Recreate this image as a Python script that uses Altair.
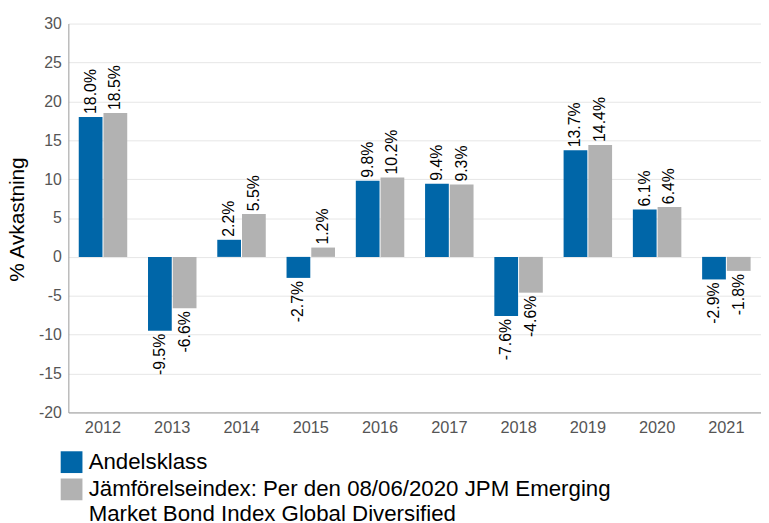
import altair as alt
import pandas as pd

years = ["2012", "2013", "2014", "2015", "2016", "2017", "2018", "2019", "2020", "2021"]
fund = [18.0, -9.5, 2.2, -2.7, 9.8, 9.4, -7.6, 13.7, 6.1, -2.9]
bench = [18.5, -6.6, 5.5, 1.2, 10.2, 9.3, -4.6, 14.4, 6.4, -1.8]
series = ["Andelsklass",
          "Jämförelseindex: Per den 08/06/2020 JPM Emerging\nMarket Bond Index Global Diversified"]
colors = ["#0066A8", "#B2B2B2"]
y_ticks = [-20, -15, -10, -5, 0, 5, 10, 15, 20, 25, 30]

rows = []
for i, y in enumerate(years):
    rows.append({"year": y, "series": series[0], "value": fund[i]})
    rows.append({"year": y, "series": series[1], "value": bench[i]})
df = pd.DataFrame(rows)
df["label"] = df["value"].map(lambda v: f"{v:.1f}%")

FONT = "Liberation Sans"

base = alt.Chart(df).encode(
    x=alt.X("year:N", sort=years,
            scale=alt.Scale(paddingInner=0.3, paddingOuter=0.15),
            axis=alt.Axis(title=None, labelAngle=0, ticks=False, domainColor="#999999",
                          labelFontSize=16.5, labelColor="#555555", labelPadding=7,
                          labelFont=FONT, grid=False)),
    xOffset=alt.XOffset("series:N", sort=series, scale=alt.Scale(paddingInner=0.04)),
    y=alt.Y("value:Q", scale=alt.Scale(domain=[-20, 30], nice=False, zero=False),
            axis=alt.Axis(values=y_ticks, title="% Avkastning", titleFontSize=21,
                          titleFont=FONT, titleFontWeight="normal", titleColor="#000000",
                          titleBaseline="alphabetic", titleX=-45, titleY=197.5,
                          titleAngle=270, titleAlign="center",
                          labelFontSize=16, labelColor="#555555",
                          labelExpr="datum.value + ''",
                          labelFont=FONT, labelPadding=7, ticks=False,
                          domainColor="#999999", gridColor="#E6E6E6")),
)

bars = base.mark_bar(strokeWidth=0).encode(
    color=alt.Color("series:N", sort=series,
                    scale=alt.Scale(domain=series, range=colors),
                    legend=alt.Legend(title=None, orient="none", legendX=-8, legendY=432,
                                      direction="vertical", symbolType="square",
                                      symbolSize=484, symbolStrokeWidth=0,
                                      labelFontSize=22.5, labelFont=FONT,
                                      labelColor="#000000", labelLimit=900,
                                      rowPadding=4.5, symbolOffset=0, labelOffset=6,
                                      labelExpr="split(datum.label, '\\n')"))
)

pos = base.transform_filter("datum.value >= 0").mark_text(
    angle=270, align="left", baseline="middle", dx=3, fontSize=16,
    font=FONT, color="#000000").encode(text="label:N")
neg = base.transform_filter("datum.value < 0").mark_text(
    angle=270, align="right", baseline="middle", dx=-3, fontSize=16,
    font=FONT, color="#000000").encode(text="label:N")

chart = alt.layer(bars, pos, neg).properties(
    width=700, height=393,
    autosize=alt.AutoSizeParams(type="none"),
    padding={"left": 61, "top": 13, "right": 0, "bottom": 109},
).configure_view(stroke=None)

chart.save("out.html", embed_options={"renderer": "svg", "actions": False})
